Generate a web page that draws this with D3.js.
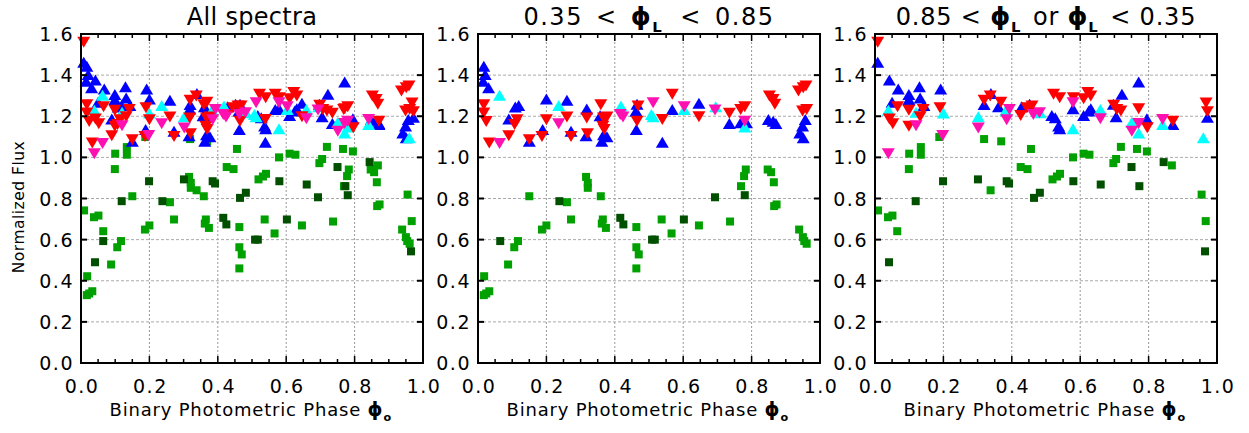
<!DOCTYPE html>
<html><head><meta charset="utf-8">
<script src="https://cdn.jsdelivr.net/npm/d3@7"></script>
<style>
html,body{margin:0;padding:0;background:#fff;}
svg text{font-family:"DejaVu Sans",sans-serif;fill:#000;}
</style></head>
<body><svg id="c" width="1249" height="433"></svg>
<script>
// ---------- DATA ----------
// Panel "mid": 0.35 < phiL < 0.85 ; panel "out": 0.85 < phiL or phiL < 0.35
const xTicks = [0.0, 0.2, 0.4, 0.6, 0.8, 1.0];
const yTicks = [0.0, 0.2, 0.4, 0.6, 0.8, 1.0, 1.2, 1.4, 1.6];
const panelTitles = ["All spectra", "0.35 < ϕL < 0.85", "0.85 < ϕL or ϕL < 0.35"];

const blueMid = [[0.017,1.443],[0.021,1.403],[0.015,1.37],[0.031,1.338],[0.09,1.187],[0.109,1.245],[0.119,1.252],[0.15,1.078],[0.189,1.135],[0.2,1.284],[0.26,1.278],[0.272,1.127],[0.318,1.235],[0.316,1.105],[0.357,1.203],[0.367,1.11],[0.377,1.10],[0.362,1.078],[0.465,1.258],[0.462,1.225],[0.463,1.135],[0.539,1.073],[0.568,1.233],[0.646,1.263],[0.735,1.165],[0.768,1.168],[0.785,1.168],[0.849,1.184],[0.863,1.176],[0.871,1.165],[0.941,1.119],[0.951,1.095],[0.949,1.152],[0.957,1.184]];
const cyanMid = [[0.063,1.302],[0.236,1.252],[0.418,1.25],[0.512,1.197],[0.507,1.209],[0.603,1.233],[0.695,1.246],[0.78,1.148]];
const redMid = [[0.017,1.256],[0.017,1.216],[0.024,1.175],[0.033,1.07],[0.09,1.105],[0.114,1.183],[0.107,1.16],[0.15,1.086],[0.187,1.102],[0.2,1.183],[0.26,1.196],[0.272,1.102],[0.318,1.192],[0.32,1.115],[0.359,1.256],[0.367,1.192],[0.365,1.151],[0.377,1.196],[0.369,1.135],[0.468,1.25],[0.465,1.176],[0.539,1.184],[0.568,1.307],[0.646,1.197],[0.735,1.214],[0.768,1.233],[0.78,1.246],[0.852,1.299],[0.863,1.282],[0.868,1.258],[0.937,1.323],[0.951,1.339],[0.959,1.347],[0.949,1.225],[0.961,1.233]];
const magentaMid = [[0.063,1.067],[0.236,1.164],[0.416,1.208],[0.424,1.196],[0.512,1.266],[0.603,1.246],[0.693,1.23],[0.78,1.176]];
const greenMid = [[0.018,0.422],[0.017,0.33],[0.024,0.338],[0.033,0.349],[0.088,0.479],[0.106,0.563],[0.117,0.593],[0.15,0.811],[0.187,0.649],[0.2,0.669],[0.26,0.782],[0.272,0.698],[0.316,0.905],[0.321,0.876],[0.321,0.852],[0.359,0.811],[0.365,0.698],[0.362,0.678],[0.374,0.657],[0.463,0.661],[0.463,0.563],[0.47,0.528],[0.463,0.46],[0.537,0.698],[0.566,0.63],[0.646,0.669],[0.737,0.688],[0.783,0.941],[0.778,0.909],[0.769,0.86],[0.847,0.941],[0.857,0.928],[0.865,0.879],[0.873,0.771],[0.866,0.763],[0.939,0.649],[0.95,0.612],[0.954,0.593],[0.961,0.58]];
const darkMid = [[0.065,0.593],[0.238,0.787],[0.416,0.706],[0.425,0.674],[0.509,0.6],[0.517,0.6],[0.602,0.698],[0.693,0.806],[0.78,0.816]];

const blueOut = [[0.008,1.463],[0.042,1.376],[0.068,1.333],[0.05,1.268],[0.099,1.306],[0.099,1.281],[0.13,1.343],[0.132,1.289],[0.143,1.252],[0.192,1.333],[0.319,1.257],[0.339,1.311],[0.361,1.246],[0.429,1.246],[0.452,1.258],[0.517,1.204],[0.527,1.193],[0.537,1.152],[0.54,1.139],[0.61,1.204],[0.625,1.225],[0.631,1.237],[0.579,1.237],[0.697,1.258],[0.722,1.307],[0.705,1.197],[0.771,1.367],[0.795,1.188],[0.871,1.16],[0.972,1.195]];
const cyanOut = [[0.039,1.229],[0.12,1.22],[0.2,1.216],[0.302,1.197],[0.383,1.229],[0.483,1.217],[0.579,1.139],[0.659,1.233],[0.751,1.171],[0.771,1.119],[0.841,1.16],[0.96,1.095]];
const redOut = [[0.008,1.56],[0.042,1.187],[0.052,1.164],[0.066,1.246],[0.099,1.229],[0.099,1.151],[0.132,1.197],[0.141,1.233],[0.19,1.241],[0.319,1.278],[0.337,1.298],[0.368,1.268],[0.426,1.204],[0.444,1.241],[0.459,1.25],[0.522,1.307],[0.54,1.29],[0.58,1.29],[0.61,1.285],[0.622,1.315],[0.631,1.299],[0.698,1.253],[0.707,1.233],[0.719,1.225],[0.771,1.237],[0.796,1.144],[0.871,1.176],[0.968,1.265],[0.972,1.222]];
const magentaOut = [[0.039,1.018],[0.12,1.154],[0.198,1.106],[0.302,1.143],[0.385,1.183],[0.393,1.233],[0.463,1.209],[0.481,1.217],[0.579,1.266],[0.659,1.188],[0.751,1.127],[0.771,1.165],[0.841,1.184]];
const greenOut = [[0.009,0.742],[0.038,0.709],[0.051,0.717],[0.065,0.641],[0.1,1.018],[0.099,0.943],[0.134,1.05],[0.134,1.013],[0.188,1.099],[0.319,1.089],[0.338,0.84],[0.369,1.078],[0.426,0.953],[0.446,0.943],[0.456,1.041],[0.519,0.893],[0.532,0.907],[0.541,0.92],[0.579,1.0],[0.61,1.018],[0.627,1.013],[0.697,0.972],[0.705,0.992],[0.719,1.051],[0.766,1.041],[0.795,1.029],[0.868,0.961],[0.955,0.819],[0.967,0.69]];
const darkOut = [[0.041,0.49],[0.119,0.787],[0.199,0.884],[0.301,0.893],[0.385,0.884],[0.392,0.873],[0.465,0.803],[0.482,0.828],[0.58,0.884],[0.66,0.868],[0.75,0.953],[0.773,0.86],[0.844,0.977],[0.965,0.543]];

// ---------- LAYOUT ----------
const svg = d3.select("#c");
const panelLeft = [81, 478, 875];
const PW = 342, TOP = 34, BOT = 363;
const colors = {green:"#00a000", dark:"#005000", blue:"#0000ff", cyan:"#00ffff", red:"#ff0000", magenta:"#ff10b0"};

const panels = [
  {green: greenMid.concat(greenOut), dark: darkMid.concat(darkOut), blue: blueMid.concat(blueOut), cyan: cyanMid.concat(cyanOut), red: redMid.concat(redOut), magenta: magentaMid.concat(magentaOut)},
  {green: greenMid, dark: darkMid, blue: blueMid, cyan: cyanMid, red: redMid, magenta: magentaMid},
  {green: greenOut, dark: darkOut, blue: blueOut, cyan: cyanOut, red: redOut, magenta: magentaOut}
];

function phiText(sel, parts, size) {
  parts.forEach(p => {
    if (p === "ϕL" || p === "ϕo") {
      sel.append("tspan").attr("font-weight", "bold").attr("font-size", size*1.05).text("ϕ");
      sel.append("tspan").attr("font-weight", "bold").attr("font-size", size*0.62).attr("dy", size*0.3).text(p[1]);
      sel.append("tspan").attr("dy", -size*0.3).attr("font-size", size).text("\u200a");
    } else {
      sel.append("tspan").attr("font-size", size).text(p);
    }
  });
}

const titleParts = [["All spectra"], ["0.35 < ", "ϕL", " < 0.85"], ["0.85 < ", "ϕL", " or ", "ϕL", " < 0.35"]];
const titleLS = [0.3, 1.5, 0.8];
const titleWS = [0, 4, 0];

panels.forEach((pd, i) => {
  const L = panelLeft[i];
  const x = d3.scaleLinear().domain([0, 1]).range([L, L + PW]);
  const y = d3.scaleLinear().domain([0, 1.6]).range([BOT, TOP]);
  const g = svg.append("g");

  // grid
  g.selectAll(".gx").data(xTicks.slice(1, -1)).enter().append("line")
    .attr("x1", d => x(d)).attr("x2", d => x(d)).attr("y1", TOP).attr("y2", BOT)
    .attr("stroke", "#999").attr("stroke-width", 1).attr("stroke-dasharray", "2,2");
  g.selectAll(".gy").data(yTicks.slice(1, -1)).enter().append("line")
    .attr("y1", d => y(d)).attr("y2", d => y(d)).attr("x1", L).attr("x2", L + PW)
    .attr("stroke", "#aaa").attr("stroke-width", 1).attr("stroke-dasharray", "3,2");

  // marks
  const sq = 8, tw = 13, th = 11;
  g.selectAll(".sg").data(pd.green).enter().append("rect")
    .attr("x", d => x(d[0]) - sq/2).attr("y", d => y(d[1]) - sq/2).attr("width", sq).attr("height", sq).attr("fill", colors.green);
  g.selectAll(".sd").data(pd.dark).enter().append("rect")
    .attr("x", d => x(d[0]) - sq/2).attr("y", d => y(d[1]) - sq/2).attr("width", sq).attr("height", sq).attr("fill", colors.dark);
  const up = d => { const cx = x(d[0]), cy = y(d[1]); return `M${cx},${cy - th/2}L${cx + tw/2},${cy + th/2}L${cx - tw/2},${cy + th/2}Z`; };
  const dn = d => { const cx = x(d[0]), cy = y(d[1]); return `M${cx},${cy + th/2}L${cx + tw/2},${cy - th/2}L${cx - tw/2},${cy - th/2}Z`; };
  g.selectAll(".tb").data(pd.blue).enter().append("path").attr("d", up).attr("fill", colors.blue);
  g.selectAll(".tc").data(pd.cyan).enter().append("path").attr("d", up).attr("fill", colors.cyan);
  g.selectAll(".tr").data(pd.red).enter().append("path").attr("d", dn).attr("fill", colors.red);
  g.selectAll(".tm").data(pd.magenta).enter().append("path").attr("d", dn).attr("fill", colors.magenta);

  // ticks
  const minor = d3.range(0, 1.0001, 0.05);
  const tk = g.append("g").attr("stroke", "#000");
  minor.forEach(v => {
    const major = Math.abs(v*5 - Math.round(v*5)) < 1e-6;
    const len = major ? 7 : 4;
    tk.append("line").attr("x1", x(v)).attr("x2", x(v)).attr("y1", BOT).attr("y2", BOT - len).attr("stroke-width", 1.5);
    tk.append("line").attr("x1", x(v)).attr("x2", x(v)).attr("y1", TOP).attr("y2", TOP + len).attr("stroke-width", 1.5);
  });
  yTicks.forEach(v => {
    tk.append("line").attr("x1", L).attr("x2", L + 6).attr("y1", y(v)).attr("y2", y(v)).attr("stroke-width", 2);
    tk.append("line").attr("x1", L + PW).attr("x2", L + PW - 6).attr("y1", y(v)).attr("y2", y(v)).attr("stroke-width", 2);
  });

  // frame
  g.append("rect").attr("x", L).attr("y", TOP).attr("width", PW).attr("height", BOT - TOP)
    .attr("fill", "none").attr("stroke", "#000").attr("stroke-width", 2);

  // tick labels
  g.selectAll(".xl").data(xTicks).enter().append("text")
    .attr("x", d => x(d) + 1).attr("y", 393).attr("text-anchor", "middle")
    .attr("font-size", 19).attr("letter-spacing", 1.5).text(d => d.toFixed(1));
  g.selectAll(".yl").data(yTicks).enter().append("text")
    .attr("x", L - 7).attr("y", d => y(d) + 7).attr("text-anchor", "end")
    .attr("font-size", 19).attr("letter-spacing", 1.5).text(d => d.toFixed(1));

  // title
  const t = g.append("text").attr("x", L + PW/2).attr("y", 25).attr("text-anchor", "middle")
    .attr("letter-spacing", titleLS[i]).attr("word-spacing", titleWS[i]);
  phiText(t, titleParts[i], 24);

  // x label
  const xl = g.append("text").attr("x", L + PW/2).attr("y", 416).attr("text-anchor", "middle").attr("letter-spacing", 0.8);
  phiText(xl, ["Binary Photometric Phase ", "ϕo"], 18);
});

svg.append("text").attr("transform", "translate(24,207) rotate(-90)").attr("text-anchor", "middle")
  .attr("font-size", 15.5).attr("letter-spacing", 0.5).text("Normalized Flux");
</script></body></html>
